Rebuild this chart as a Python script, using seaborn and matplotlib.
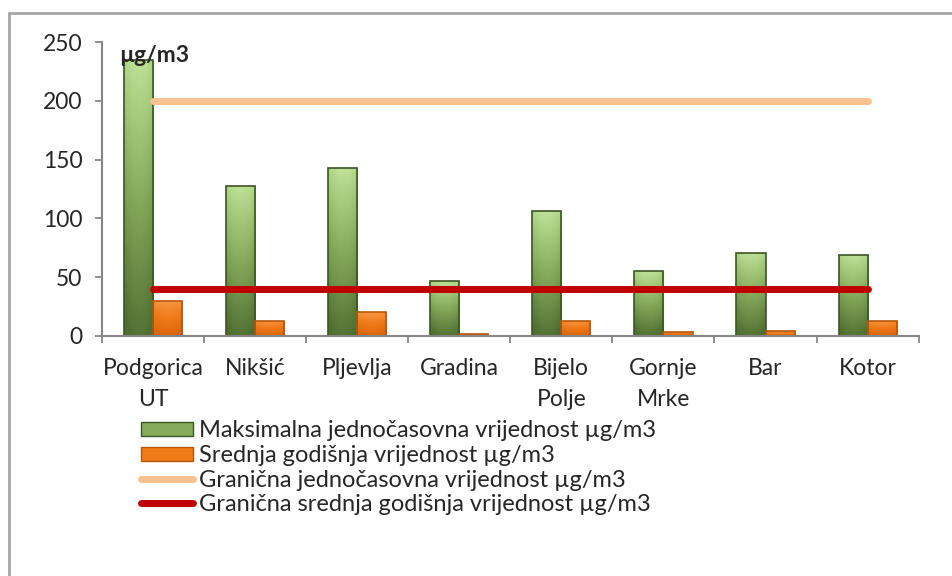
import numpy as np
import pandas as pd
import matplotlib
matplotlib.use("Agg")
import matplotlib.pyplot as plt
import seaborn as sns
from matplotlib.colors import LinearSegmentedColormap
from matplotlib.patches import Patch
from matplotlib.lines import Line2D

cities = ["Podgorica\nUT", "Nikšić", "Pljevlja", "Gradina", "Bijelo\nPolje", "Gornje\nMrke", "Bar", "Kotor"]
max_hourly = [235, 128, 143, 47, 106, 55, 71, 69]
annual_mean = [30, 13, 20, 1.5, 13, 3.5, 4, 13]
limit_hourly = [200] * len(cities)
limit_annual = [40] * len(cities)

bar_labels = ["Maksimalna jednočasovna vrijednost µg/m3", "Srednja godišnja vrijednost µg/m3"]
line_labels = ["Granična jednočasovna vrijednost µg/m3", "Granična srednja godišnja vrijednost µg/m3"]

df = pd.DataFrame({
    "grad": cities * 2,
    "serija": [bar_labels[0]] * len(cities) + [bar_labels[1]] * len(cities),
    "vrijednost": max_hourly + annual_mean,
})

sns.set_style("white")
plt.rcParams["font.family"] = ["Lato", "DejaVu Sans"]
fs = 16.5

fig = plt.figure(figsize=(9.52, 5.76), dpi=100)
ax = fig.add_axes([0.107, 0.4167, 0.858, 0.51])

green = ["#4f6d30", "#86ab5c", "#c4e89c"]
orange = ["#d9650c", "#f07a18", "#f89a4a"]
edges = ["#3c5526", "#b8570a"]

sns.barplot(data=df, x="grad", y="vrijednost", hue="serija", hue_order=bar_labels,
            palette=[green[1], orange[1]], width=0.57, gap=0, legend=False, ax=ax,
            saturation=1)

# gradient fill, clipped to each bar
cmaps = [LinearSegmentedColormap.from_list("g", green), LinearSegmentedColormap.from_list("o", orange)]
tv = np.linspace(0, 1, 100)[:, None]
th = np.linspace(-1, 1, 40)[None, :]
grad = np.clip(tv * 0.9 + 0.05 - 0.12 * th ** 2, 0, 1)
for cont, cm, ec in zip(ax.containers, cmaps, edges):
    for bar in cont:
        x0, y0, w, h = bar.get_x(), bar.get_y(), bar.get_width(), bar.get_height()
        if h <= 0:
            continue
        im = ax.imshow(grad, extent=[x0, x0 + w, y0, y0 + h], origin="lower",
                       aspect="auto", cmap=cm, vmin=0, vmax=1, zorder=2)
        im.set_clip_path(bar)
        bar.set_facecolor("none")
        bar.set_edgecolor(ec)
        bar.set_linewidth(1.2)
        bar.set_zorder(2.5)

pos = np.arange(len(cities))
sns.lineplot(x=pos, y=limit_hourly, color="#fac090", lw=5, ax=ax, zorder=3,
             solid_capstyle="round")
sns.lineplot(x=pos, y=limit_annual, color="#c00000", lw=5, ax=ax, zorder=3,
             solid_capstyle="round")

ax.set_xlim(-0.5, len(cities) - 0.5)
ax.set_ylim(0, 250)
ax.set_yticks(range(0, 251, 50))
ax.set_xlabel("")
ax.set_ylabel("")
for s in ["top", "right"]:
    ax.spines[s].set_visible(False)
for s in ["left", "bottom"]:
    ax.spines[s].set_color("#868686")
    ax.spines[s].set_linewidth(1.5)

ax.set_xticks(pos)
ax.set_xticklabels(cities, linespacing=1.6)
ax.set_xticks(np.arange(len(cities) + 1) - 0.5, minor=True)
ax.tick_params(axis="x", which="major", length=0, pad=16, labelsize=fs)
ax.tick_params(axis="x", which="minor", length=5, width=1.3, color="#868686", direction="out", bottom=True)
ax.tick_params(axis="y", length=5, width=1.3, color="#868686", direction="out", left=True, pad=9, labelsize=fs)

ax.text(0.021, 0.955, "µg/m3", transform=ax.transAxes, fontsize=fs, fontweight="bold",
        ha="left", va="center", zorder=4)

handles = [
    Patch(facecolor=green[1], edgecolor=edges[0]),
    Patch(facecolor=orange[1], edgecolor=edges[1]),
    Line2D([], [], color="#fac090", lw=5, solid_capstyle="round"),
    Line2D([], [], color="#c00000", lw=5, solid_capstyle="round"),
]
fig.legend(handles, bar_labels + line_labels, loc="upper left",
           bbox_to_anchor=(0.148, 0.27), frameon=False, fontsize=fs + 0.5,
           handlelength=2.2, handleheight=0.55, handletextpad=0.25, labelspacing=0.15,
           borderpad=0, borderaxespad=0)

fig.add_artist(Line2D([0.0095, 1], [0.977, 0.977], color="#a6a6a6", lw=2, transform=fig.transFigure))
fig.add_artist(Line2D([0.0095, 0.0095], [0, 0.977], color="#a6a6a6", lw=2, transform=fig.transFigure))

fig.savefig("out.png", dpi=100)
